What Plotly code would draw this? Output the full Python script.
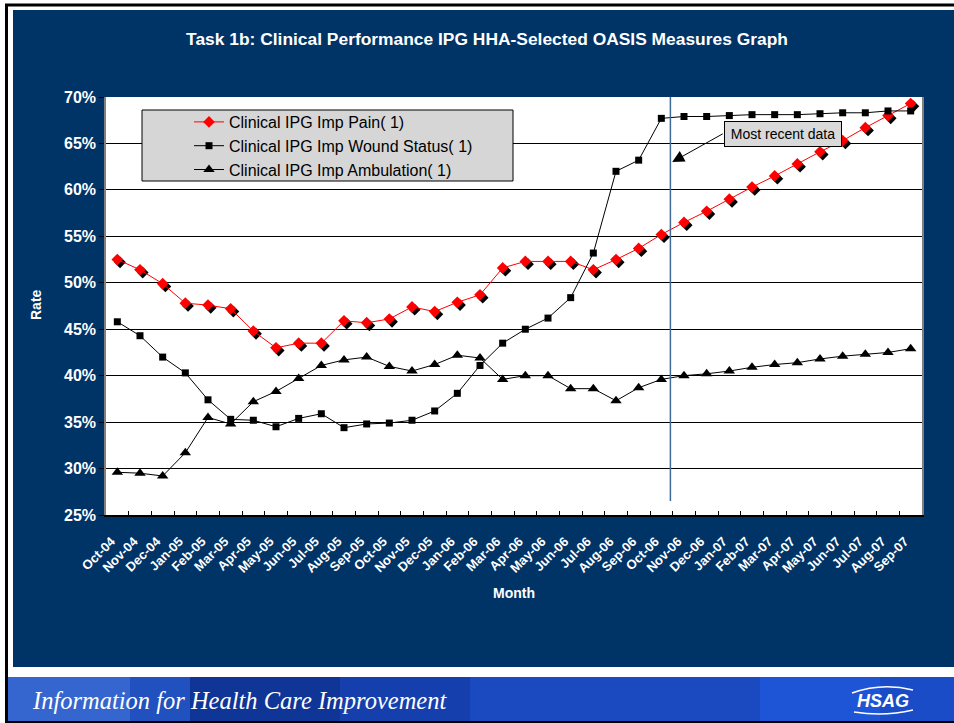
import plotly.graph_objects as go

# month labels on the x axis
months = ["Oct-04", "Nov-04", "Dec-04", "Jan-05", "Feb-05", "Mar-05", "Apr-05", "May-05",
          "Jun-05", "Jul-05", "Aug-05", "Sep-05", "Oct-05", "Nov-05", "Dec-05", "Jan-06",
          "Feb-06", "Mar-06", "Apr-06", "May-06", "Jun-06", "Jul-06", "Aug-06", "Sep-06",
          "Oct-06", "Nov-06", "Dec-06", "Jan-07", "Feb-07", "Mar-07", "Apr-07", "May-07",
          "Jun-07", "Jul-07", "Aug-07", "Sep-07"]

# rates in percent
pain = [52.5, 51.4, 49.9, 47.8, 47.6, 47.2, 44.8, 43.0, 43.5, 43.5, 45.9, 45.7,
        46.1, 47.4, 46.9, 47.9, 48.7, 51.6, 52.3, 52.3, 52.3, 51.4, 52.5, 53.7,
        55.2, 56.5, 57.7, 59.0, 60.3, 61.5, 62.8, 64.1, 65.3, 66.7, 68.0, 69.3]
wound = [45.8, 44.3, 42.0, 40.3, 37.4, 35.3, 35.2, 34.5, 35.4, 35.9, 34.4, 34.8,
         34.9, 35.2, 36.2, 38.1, 41.1, 43.5, 45.0, 46.2, 48.4, 53.2, 62.0, 63.2,
         67.7, 67.9, 67.9, 68.0, 68.1, 68.1, 68.1, 68.2, 68.3, 68.3, 68.5, 68.5]
ambulation = [29.6, 29.5, 29.2, 31.7, 35.5, 34.8, 37.2, 38.3, 39.7, 41.1, 41.7, 42.0,
              41.0, 40.5, 41.2, 42.2, 41.9, 39.6, 40.0, 40.0, 38.6, 38.6, 37.3, 38.7,
              39.6, 40.0, 40.2, 40.5, 40.9, 41.2, 41.4, 41.8, 42.1, 42.3, 42.5, 42.9]

y_ticks = [25, 30, 35, 40, 45, 50, 55, 60, 65, 70]

NAVY = "#003366"
FONT = "Arial, Liberation Sans, sans-serif"

# plot area in pixels
L, R, T, B = 106, 922, 97, 515
W, H = 954, 723


def px(x):
    return (x - L) / (R - L)


def py(y):
    return (B - y) / (B - T)


idx = list(range(len(months)))

fig = go.Figure()

# drop shadow under the red diamonds
fig.add_trace(go.Scatter(
    x=[i + 0.12 for i in idx], y=[v - 0.3 for v in pain], mode="markers",
    marker=dict(symbol="diamond", size=9, color="black"),
    showlegend=False, hoverinfo="skip"))

fig.add_trace(go.Scatter(
    x=idx, y=pain, mode="lines+markers", name="Clinical IPG Imp Pain( 1)",
    line=dict(color="#ff0000", width=1),
    marker=dict(symbol="diamond", size=9, color="#ff0000")))
fig.add_trace(go.Scatter(
    x=idx, y=wound, mode="lines+markers", name="Clinical IPG Imp Wound Status( 1)",
    line=dict(color="black", width=1),
    marker=dict(symbol="square", size=7, color="black")))
fig.add_trace(go.Scatter(
    x=idx, y=ambulation, mode="lines+markers", name="Clinical IPG Imp Ambulation( 1)",
    line=dict(color="black", width=1),
    marker=dict(symbol="triangle-up", size=10, color="black")))

shapes = []


def rect(x0, y0, x1, y1, color, layer="below", line=None):
    shapes.append(dict(type="rect", xref="paper", yref="paper",
                       x0=px(x0), x1=px(x1), y0=py(y1), y1=py(y0),
                       fillcolor=color, line=line or dict(width=0), layer=layer))


def hline(x0, x1, y, color, width):
    shapes.append(dict(type="line", xref="paper", yref="paper",
                       x0=px(x0), x1=px(x1), y0=py(y), y1=py(y),
                       line=dict(color=color, width=width), layer="below"))


# white slide margins around the navy panel
rect(0, 0, W, 10, "white")
rect(0, 0, 13, H, "white")
rect(0, 667, W, H, "white")

# banner strip
rect(8, 677, W, 721, "#1b49c0")
rect(8, 677, 130, 721, "#3566cf")
rect(130, 677, 190, 721, "#2150bf")
rect(190, 677, 340, 721, "#0f3597")
rect(340, 677, 470, 721, "#163fae")
rect(760, 677, 880, 721, "#1d55d6")
rect(880, 677, W, 721, "#1a4cc8")

# black frame
hline(5, W, 5, "black", 3)
hline(5, W, 722, "black", 2)
shapes.append(dict(type="line", xref="paper", yref="paper",
                   x0=px(6.5), x1=px(6.5), y0=py(4), y1=py(H),
                   line=dict(color="black", width=3), layer="below"))

# HSAG swoosh
shapes.append(dict(type="path", xref="paper", yref="paper", layer="below",
                   path="M %f,%f Q %f,%f %f,%f" % (px(852), py(693), px(882), py(682), px(913), py(690)),
                   line=dict(color="white", width=1.5)))
shapes.append(dict(type="path", xref="paper", yref="paper", layer="below",
                   path="M %f,%f Q %f,%f %f,%f" % (px(854), py(712), px(884), py(717), px(913), py(710)),
                   line=dict(color="white", width=1.5)))

# legend box
rect(142, 110, 513, 181, "#d6d6d6", layer="above", line=dict(color="black", width=1))

# "most recent data" divider
shapes.append(dict(type="line", xref="x", yref="y", x0=24.4, x1=24.4, y0=26.5, y1=70,
                   line=dict(color="#3d6a99", width=1.5), layer="above"))

annotations = [
    dict(text="<b>Rate</b>", xref="paper", yref="paper", x=px(36), y=py(305),
         xanchor="center", yanchor="middle",
         textangle=-90, showarrow=False, font=dict(size=14, color="white", family=FONT)),
    dict(text="<b>Month</b>", xref="paper", yref="paper", x=px(514), y=py(593),
         xanchor="center", yanchor="middle",
         showarrow=False, font=dict(size=14, color="white", family=FONT)),
    dict(text="Most recent data", xref="x", yref="y", x=29.38, y=66.0, showarrow=False,
         width=114, height=22, borderpad=1,
         bgcolor="#d9d9d9", bordercolor="black", borderwidth=1,
         font=dict(size=14, color="black", family=FONT)),
    dict(text="", xref="x", yref="y", x=24.48, y=63.0, ax=52, ay=-29,
         showarrow=True, arrowhead=2, arrowsize=2.4, arrowwidth=1, arrowcolor="black"),
    dict(text="<i>Information for Health Care Improvement</i>", xref="paper", yref="paper",
         x=px(30), y=py(700), xanchor="left", yanchor="middle", showarrow=False,
         font=dict(size=24.5, color="white", family="Liberation Serif, serif")),
    dict(text="<b><i>HSAG</i></b>", xref="paper", yref="paper", x=px(883), y=py(701),
         xanchor="center", yanchor="middle",
         showarrow=False, font=dict(size=18, color="white", family=FONT)),
]

fig.update_layout(
    width=W, height=H,
    margin=dict(l=L, r=W - R, t=T, b=H - B, pad=0),
    paper_bgcolor=NAVY, plot_bgcolor="white",
    font=dict(family=FONT, color="white"),
    title=dict(text="<b>Task 1b: Clinical Performance IPG HHA-Selected OASIS Measures Graph</b>",
               x=px(487), xref="paper", xanchor="center", y=1 - 39 / H, yanchor="middle",
               font=dict(size=17.4, color="white", family=FONT)),
    showlegend=True,
    legend=dict(x=px(189), y=py(105), xanchor="left", yanchor="top",
                bgcolor="rgba(0,0,0,0)", borderwidth=0,
                font=dict(size=16, color="black", family=FONT)),
    shapes=shapes,
    annotations=annotations,
    xaxis=dict(range=[-0.5, 35.5], tickmode="array", tickvals=idx, ticktext=months,
               ticks="", tickangle=-45, showgrid=False, zeroline=False,
               showline=True, linecolor="black", linewidth=1.5,
               ticklabelstandoff=12, ticklabelshift=-6,
               tickfont=dict(size=13, color="white", family=FONT, weight="bold"),
               minor=dict(tickmode="array", tickvals=[i + 0.5 for i in idx[:-1]],
                          ticks="inside", ticklen=4, tickcolor="black", showgrid=False)),
    yaxis=dict(range=[25, 70], tickmode="array", tickvals=y_ticks,
               ticktext=["%d%%" % v for v in y_ticks],
               ticks="outside", ticklen=5, tickcolor="black",
               showgrid=True, gridcolor="black", gridwidth=1, zeroline=False,
               showline=True, linecolor="#808080", linewidth=1.5, mirror=True,
               tickfont=dict(size=16, color="white", family=FONT, weight="bold")),
)

# the page body margin would shift the slide by 8px
fig.write_html("out.html", config={"displayModeBar": False},
               post_script="document.body.style.margin='0';")
